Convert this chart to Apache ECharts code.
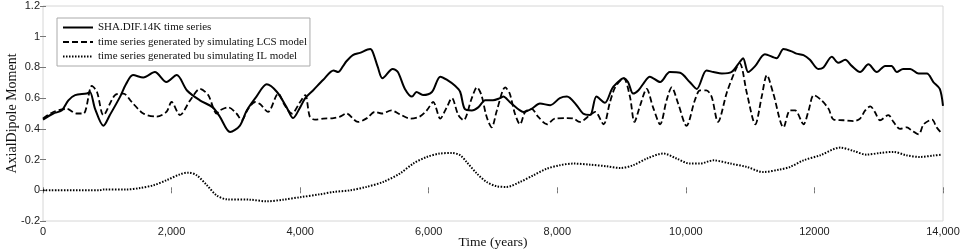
<!DOCTYPE html>
<html>
<head>
<meta charset="utf-8">
<title>Axial dipole moment time series</title>
<script src="https://cdn.jsdelivr.net/npm/echarts@6/dist/echarts.min.js"></script>
<style>
  html, body { margin: 0; padding: 0; background: #fff; }
  #chart { width: 964px; height: 252px; }
</style>
</head>
<body>
<div id="chart"></div>
<script>
// years / values
const shaYears = [0, 160, 290, 395, 500, 680, 730, 810, 940, 1040, 1200, 1290, 1400, 1560, 1740, 1920, 2080, 2240, 2440, 2640, 2750, 2910, 3060, 3170, 3320, 3480, 3640, 3790, 3890, 4000, 4080, 4200, 4360, 4520, 4590, 4670, 4720, 4820, 4930, 5090, 5130, 5210, 5280, 5440, 5520, 5630, 5740, 5810, 5910, 6050, 6180, 6280, 6410, 6490, 6560, 6670, 6770, 6880, 7000, 7110, 7160, 7260, 7420, 7470, 7600, 7730, 7890, 8040, 8150, 8300, 8400, 8510, 8610, 8740, 8850, 8920, 9030, 9100, 9180, 9260, 9340, 9440, 9600, 9750, 9910, 10060, 10170, 10320, 10430, 10560, 10710, 10840, 10890, 10970, 11080, 11230, 11410, 11520, 11670, 11720, 11830, 11930, 12060, 12140, 12270, 12370, 12480, 12580, 12710, 12840, 12970, 13100, 13200, 13280, 13380, 13490, 13620, 13750, 13850, 13950, 14000];
const shaValues = [0.46, 0.50, 0.52, 0.586, 0.62, 0.63, 0.64, 0.53, 0.42, 0.49, 0.61, 0.69, 0.75, 0.735, 0.77, 0.705, 0.75, 0.65, 0.586, 0.54, 0.48, 0.38, 0.42, 0.52, 0.61, 0.69, 0.64, 0.54, 0.47, 0.54, 0.60, 0.65, 0.72, 0.78, 0.77, 0.81, 0.84, 0.88, 0.895, 0.92, 0.90, 0.80, 0.73, 0.79, 0.77, 0.66, 0.61, 0.64, 0.62, 0.64, 0.74, 0.72, 0.68, 0.64, 0.53, 0.52, 0.54, 0.586, 0.586, 0.60, 0.61, 0.575, 0.52, 0.51, 0.53, 0.565, 0.554, 0.60, 0.61, 0.554, 0.50, 0.49, 0.61, 0.57, 0.66, 0.695, 0.73, 0.705, 0.63, 0.65, 0.695, 0.74, 0.705, 0.77, 0.765, 0.705, 0.66, 0.78, 0.77, 0.76, 0.77, 0.836, 0.86, 0.77, 0.81, 0.886, 0.86, 0.92, 0.90, 0.89, 0.88, 0.85, 0.79, 0.80, 0.87, 0.83, 0.85, 0.81, 0.77, 0.82, 0.77, 0.81, 0.81, 0.77, 0.79, 0.79, 0.76, 0.76, 0.705, 0.66, 0.55];

const lcsYears = [0, 160, 370, 520, 630, 760, 840, 940, 1120, 1250, 1380, 1560, 1770, 1920, 2000, 2130, 2290, 2440, 2570, 2700, 2750, 2880, 3010, 3090, 3190, 3300, 3380, 3500, 3660, 3760, 3870, 4000, 4080, 4150, 4230, 4360, 4520, 4620, 4720, 4900, 5040, 5160, 5270, 5420, 5550, 5710, 5860, 5970, 6070, 6180, 6280, 6360, 6460, 6540, 6670, 6750, 6820, 6900, 6980, 7060, 7190, 7260, 7340, 7420, 7500, 7600, 7700, 7840, 7960, 8150, 8250, 8350, 8510, 8590, 8720, 8820, 8900, 9030, 9130, 9200, 9290, 9390, 9490, 9600, 9700, 9780, 9880, 10010, 10140, 10220, 10320, 10400, 10500, 10640, 10790, 10840, 10950, 11080, 11180, 11260, 11360, 11520, 11620, 11700, 11830, 11910, 11990, 12110, 12220, 12300, 12450, 12610, 12710, 12790, 12870, 12940, 13020, 13150, 13230, 13330, 13440, 13510, 13620, 13700, 13830, 13900, 13980];
const lcsValues = [0.467, 0.51, 0.53, 0.50, 0.50, 0.68, 0.64, 0.49, 0.62, 0.63, 0.575, 0.50, 0.48, 0.51, 0.575, 0.49, 0.586, 0.66, 0.62, 0.50, 0.52, 0.54, 0.50, 0.456, 0.53, 0.575, 0.56, 0.51, 0.63, 0.554, 0.50, 0.575, 0.62, 0.48, 0.46, 0.467, 0.47, 0.48, 0.50, 0.445, 0.47, 0.51, 0.50, 0.52, 0.495, 0.467, 0.48, 0.52, 0.575, 0.467, 0.54, 0.60, 0.49, 0.456, 0.60, 0.67, 0.62, 0.48, 0.41, 0.52, 0.67, 0.63, 0.50, 0.43, 0.51, 0.53, 0.48, 0.43, 0.467, 0.47, 0.467, 0.445, 0.49, 0.51, 0.43, 0.575, 0.67, 0.73, 0.61, 0.445, 0.554, 0.66, 0.54, 0.43, 0.586, 0.67, 0.565, 0.42, 0.586, 0.65, 0.65, 0.61, 0.445, 0.64, 0.80, 0.825, 0.63, 0.43, 0.61, 0.75, 0.63, 0.41, 0.52, 0.52, 0.43, 0.52, 0.62, 0.586, 0.53, 0.46, 0.456, 0.45, 0.467, 0.52, 0.547, 0.51, 0.456, 0.49, 0.445, 0.40, 0.41, 0.39, 0.365, 0.43, 0.46, 0.41, 0.37];

const ilYears = [0, 880, 940, 1300, 1510, 1720, 1920, 2130, 2260, 2390, 2550, 2700, 2860, 3220, 3480, 3740, 4000, 4310, 4520, 4780, 5030, 5290, 5550, 5760, 5970, 6170, 6360, 6490, 6590, 6750, 6900, 7060, 7210, 7420, 7630, 7840, 8040, 8250, 8510, 8770, 8980, 9180, 9390, 9650, 9860, 10060, 10220, 10430, 10690, 10950, 11200, 11460, 11620, 11830, 12090, 12400, 12610, 12810, 13020, 13230, 13430, 13640, 13850, 13980];
const ilValues = [0, 0, 0.005, 0.005, 0.015, 0.033, 0.065, 0.104, 0.115, 0.098, 0.033, -0.033, -0.059, -0.061, -0.072, -0.061, -0.045, -0.026, -0.011, 0, 0.022, 0.054, 0.109, 0.174, 0.217, 0.239, 0.243, 0.228, 0.184, 0.109, 0.054, 0.026, 0.022, 0.054, 0.098, 0.141, 0.163, 0.174, 0.167, 0.156, 0.145, 0.163, 0.206, 0.239, 0.206, 0.174, 0.174, 0.195, 0.174, 0.152, 0.119, 0.135, 0.152, 0.195, 0.228, 0.278, 0.256, 0.232, 0.243, 0.25, 0.228, 0.217, 0.226, 0.232];

const xTickLabels = ['0', '2,000', '4,000', '6,000', '8,000', '10,000', '12000', '14,000'];
const yTickLabels = ['-0.2', '0', '0.2', '0.4', '0.6', '0.8', '1', '1.2'];

const seriesNames = [
  'SHA.DIF.14K time series',
  'time series generated by simulating LCS model',
  'time series generated bu simulating IL model'
];

function pairs(xs, ys) {
  return xs.map(function (x, i) { return [x, ys[i]]; });
}

const chart = echarts.init(document.getElementById('chart'));

const tickStyle = { show: true, inside: true, length: 3, lineStyle: { color: '#777', width: 1 } };
const serif = '"Liberation Serif", "Times New Roman", serif';
const sans = '"Liberation Sans", Arial, sans-serif';

chart.setOption({
  animation: false,
  backgroundColor: '#fff',
  grid: {
    left: 43, right: 21, top: 6, bottom: 31,
    outerBoundsMode: 'none',
    containLabel: false,
    show: true, borderColor: '#d6d6d6', borderWidth: 1
  },
  legend: {
    orient: 'vertical',
    left: 57, top: 18,
    padding: [4, 3, 4, 5],
    itemWidth: 30, itemHeight: 12, itemGap: 3.5,
    borderColor: '#aaa', borderWidth: 1,
    backgroundColor: '#fff',
    data: seriesNames,
    itemStyle: { opacity: 0 },
    textStyle: { fontFamily: serif, fontSize: 11, color: '#111' }
  },
  xAxis: [{
    type: 'value', min: 0, max: 14000, interval: 2000,
    name: 'Time (years)', nameLocation: 'middle', nameGap: 14,
    nameMoveOverlap: false,
    nameTextStyle: { fontFamily: serif, fontSize: 13.5, color: '#111' },
    axisLine: { show: false },
    axisTick: tickStyle,
    splitLine: { show: false },
    axisLabel: {
      margin: 5, fontFamily: sans, fontSize: 11, color: '#222',
      formatter: function (v) { return xTickLabels[Math.round(v / 2000)]; }
    }
  }, {
    type: 'value', position: 'top', min: 0, max: 14000, interval: 2000,
    axisLine: { show: false }, axisTick: tickStyle,
    axisLabel: { show: false }, splitLine: { show: false }
  }],
  yAxis: [{
    type: 'value', min: -0.2, max: 1.2, interval: 0.2,
    name: 'AxialDipole Moment', nameLocation: 'middle', nameGap: 24,
    nameMoveOverlap: false,
    nameTextStyle: { fontFamily: serif, fontSize: 14, color: '#111' },
    axisLine: { show: false },
    axisTick: tickStyle,
    splitLine: { show: false },
    axisLabel: {
      margin: 3, fontFamily: sans, fontSize: 11, color: '#222',
      formatter: function (v) { return yTickLabels[Math.round((v + 0.2) / 0.2)]; }
    }
  }, {
    type: 'value', position: 'right', min: -0.2, max: 1.2, interval: 0.2,
    axisLine: { show: false }, axisTick: tickStyle,
    axisLabel: { show: false }, splitLine: { show: false }
  }],
  series: [{
    name: seriesNames[0], type: 'line', symbol: 'none', smooth: 0.3,
    color: '#000',
    lineStyle: { color: '#000', width: 2 },
    data: pairs(shaYears, shaValues)
  }, {
    name: seriesNames[1], type: 'line', symbol: 'none', smooth: 0.3,
    color: '#000',
    lineStyle: { color: '#000', width: 1.8, type: [6, 3] },
    data: pairs(lcsYears, lcsValues)
  }, {
    name: seriesNames[2], type: 'line', symbol: 'none', smooth: 0.3,
    color: '#000',
    lineStyle: { color: '#000', width: 2, type: [1.5, 1.5] },
    data: pairs(ilYears, ilValues)
  }]
});
</script>
</body>
</html>
